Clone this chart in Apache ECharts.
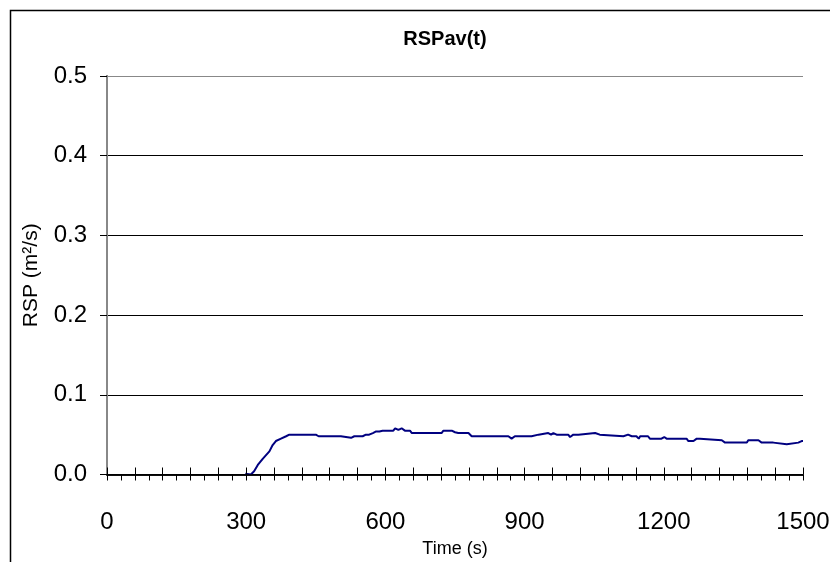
<!DOCTYPE html>
<html>
<head>
<meta charset="utf-8">
<script src="https://cdn.jsdelivr.net/npm/echarts@6/dist/echarts.min.js"></script>
<style>
html,body{margin:0;padding:0;background:#fff;}
#chart{width:830px;height:562px;}
</style>
</head>
<body>
<div id="chart"></div>
<script>
var titleText = 'RSPav(t)';
var xName = 'Time (s)';
var yName = 'RSP (m\u00b2/s)';
var times = [298,310,317,325,336,350,357,364,375,386,393,450,456,466,468,472,486,490,493,504,508,526,527,529,533,544,547,551,558,565,573,580,587,594,617,621,628,635,642,653,657,721,725,743,750,754,757,779,786,865,872,879,915,919,930,933,951,957,962,965,969,987,991,994,998,1005,1016,1019,1052,1055,1062,1066,1113,1117,1123,1131,1141,1146,1149,1166,1170,1195,1201,1206,1249,1253,1264,1271,1278,1282,1325,1332,1379,1382,1404,1411,1436,1440,1465,1468,1490,1497,1500];
var rsp = [0.001,0.000,0.004,0.012,0.020,0.029,0.037,0.042,0.045,0.048,0.050,0.050,0.048,0.048,0.050,0.048,0.048,0.046,0.048,0.048,0.046,0.046,0.047,0.046,0.048,0.048,0.050,0.048,0.050,0.050,0.052,0.054,0.054,0.055,0.055,0.058,0.056,0.058,0.055,0.055,0.052,0.052,0.055,0.055,0.053,0.055,0.052,0.052,0.048,0.048,0.045,0.048,0.048,0.050,0.050,0.052,0.052,0.050,0.052,0.052,0.050,0.050,0.048,0.050,0.047,0.050,0.050,0.052,0.052,0.050,0.050,0.048,0.048,0.050,0.050,0.048,0.048,0.045,0.048,0.048,0.045,0.045,0.047,0.045,0.045,0.042,0.042,0.045,0.045,0.043,0.043,0.040,0.040,0.043,0.043,0.040,0.040,0.038,0.038,0.040,0.040,0.042,0.042];
var xMin = 0, xMax = 1500, xLabelStep = 300, xMinor = 30, xMajor = 60;
var yMin = 0, yMax = 0.5, yStep = 0.1;

var data = times.map(function(t,i){return [t, rsp[i]];});
var chart = echarts.init(document.getElementById('chart'), null, {renderer:'canvas'});
var font = 'Arial, "Liberation Sans", sans-serif';
chart.setOption({
  animation:false,
  backgroundColor:'#fff',
  title:{text:titleText,left:440,top:24,textAlign:'center',
    textStyle:{fontFamily:font,fontSize:20,fontWeight:'bold',color:'#000'}},
  graphic:[{type:'rect',shape:{x:10.5,y:10.5,width:1000,height:1000},
    style:{fill:null,stroke:'#000',lineWidth:1.5},silent:true,z:-1}],
  grid:{left:107,right:27,top:76,bottom:87.5,containLabel:false,outerBoundsMode:'none'},
  xAxis:[{
    type:'value',min:xMin,max:xMax,interval:xMinor,
    name:xName,nameLocation:'middle',nameGap:66,
    nameTextStyle:{fontFamily:font,fontSize:18,color:'#000'},
    axisLine:{show:true,onZero:false,lineStyle:{color:'#000',width:1.5}},
    axisTick:{show:true,inside:false,length:6,lineStyle:{color:'#000',width:1}},
    axisLabel:{margin:36,fontFamily:font,fontSize:24,color:'#000',hideOverlap:false,
      formatter:function(v){return (Math.round(v)%xLabelStep===0)?String(Math.round(v)):'';}},
    splitLine:{show:false}
  },{
    type:'value',min:xMin,max:xMax,interval:xMajor,position:'bottom',
    axisLine:{show:true,onZero:false,lineStyle:{color:'#000',width:1.5}},
    axisTick:{show:true,inside:true,length:7,lineStyle:{color:'#000',width:1}},
    axisLabel:{show:false},splitLine:{show:false},z:5
  }],
  yAxis:[{
    type:'value',min:yMin,max:yMax,interval:yStep,
    name:yName,nameLocation:'middle',nameGap:65,
    nameTextStyle:{fontFamily:font,fontSize:21,color:'#000'},
    axisLine:{show:true,lineStyle:{color:'#000',width:1.5}},
    axisTick:{show:true,inside:false,length:7,lineStyle:{color:'#000',width:1}},
    axisLabel:{margin:20,fontFamily:font,fontSize:24,color:'#000',
      formatter:function(v){return v.toFixed(1);}},
    splitLine:{show:true,lineStyle:{color:['#000','#000','#000','#000','#000','#888'],width:1}}
  },{
    type:'value',min:yMin,max:yMax,interval:yStep,position:'right',
    axisLine:{show:true,lineStyle:{color:'#888',width:2}},
    axisTick:{show:false},axisLabel:{show:false},splitLine:{show:false}
  }],
  series:[{
    type:'line',xAxisIndex:0,yAxisIndex:0,data:data,
    showSymbol:false,symbol:'none',
    lineStyle:{color:'#000080',width:2},
    itemStyle:{color:'#000080'}
  }]
});
</script>
</body>
</html>
